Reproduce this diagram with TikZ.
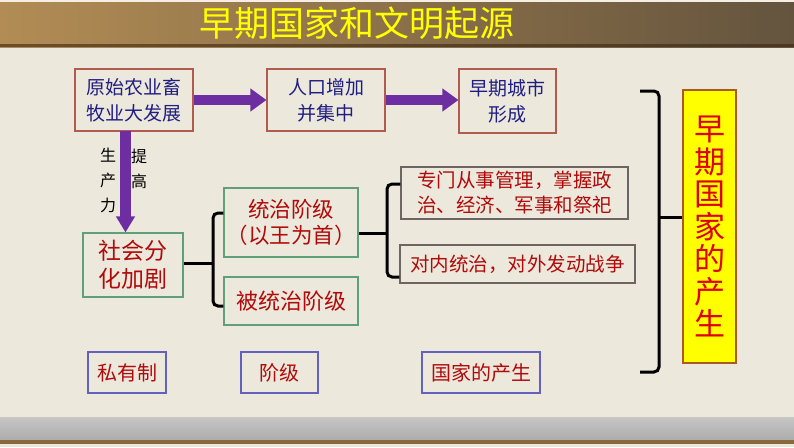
\documentclass[tikz,border=0pt]{standalone}
\usepackage{fontspec}
\newfontfamily\cjk{Noto Sans CJK SC}
\usetikzlibrary{arrows.meta,calc}
\definecolor{beige}{RGB}{236,232,220}
\definecolor{navy}{RGB}{32,30,130}
\definecolor{redtxt}{RGB}{176,10,10}
\definecolor{brownbd}{RGB}{176,90,80}
\definecolor{greenbd}{RGB}{96,160,120}
\definecolor{graybd}{RGB}{110,100,100}
\definecolor{purpbd}{RGB}{100,96,190}
\definecolor{purp}{RGB}{108,46,160}
\definecolor{ybox}{RGB}{255,255,0}
\definecolor{ybd}{RGB}{170,90,40}
\definecolor{wood1}{RGB}{178,140,84}
\definecolor{wood2}{RGB}{160,124,70}
\definecolor{wood3}{RGB}{100,84,62}
\tikzset{
  box/.style={draw, line width=1.1pt, align=center, inner sep=0pt, anchor=center},
  bluebox/.style={box, draw=brownbd, text=navy, font=\cjk\fontsize{19}{26}\selectfont},
  greenbox/.style={box, draw=greenbd, text=redtxt},
  graybox/.style={box, draw=graybd, text=redtxt, font=\cjk\fontsize{19.5}{25}\selectfont},
  purpbox/.style={box, draw=purpbd, text=redtxt, font=\cjk\fontsize{20}{24}\selectfont},
  blockarrow/.style={draw=purp, line width=10pt, -{Triangle[length=16pt,width=22pt]}},
  brk/.style={draw=black, line width=3pt, rounded corners=5pt},
  vlabel/.style={align=center, text=black, font=\cjk\fontsize{16}{25}\selectfont, inner sep=0pt}
}
\begin{document}
\begin{tikzpicture}[x=1pt,y=-1pt]
\useasboundingbox (0,0) rectangle (794,447);
% background
\fill[beige] (0,0) rectangle (794,447);
\shade[left color=wood1, middle color=wood2, right color=wood3] (0,0) rectangle (794,47);
\fill[black!70!brown, opacity=0.6] (0,44) rectangle (794,47);
\fill[white!85!wood1] (0,0) rectangle (794,2);
\shade[top color=gray!45, bottom color=gray!65] (0,417) rectangle (794,440);
\fill[wood2!85!black] (0,440) rectangle (794,444);
% title
\node[text=ybox, font=\cjk\fontsize{35}{38}\selectfont, inner sep=0pt] (title) at (357,23) {早期国家和文明起源};
% top row
\node[bluebox, minimum width=118pt, minimum height=62pt] (A) at (134,100) {原始农业畜\\牧业大发展};
\node[bluebox, minimum width=118pt, minimum height=62pt] (B) at (326,100) {人口增加\\并集中};
\node[bluebox, minimum width=97pt, minimum height=64pt] (C) at (507.5,101) {早期城市\\形成};
\draw[blockarrow] (A.east) -- (B.west);
\draw[blockarrow] (B.east) -- (C.west |- B.east);
% middle
\node[greenbox, font=\cjk\fontsize{23}{28}\selectfont, minimum width=100pt, minimum height=64pt] (D) at (133,265) {社会分\\化加剧};
\node[greenbox, font=\cjk\fontsize{21.5}{26}\selectfont, minimum width=134pt, minimum height=69pt] (E) at (291,222.5) {统治阶级\\（以王为首）};
\node[greenbox, font=\cjk\fontsize{22}{26}\selectfont, minimum width=134pt, minimum height=48pt] (F) at (291,301) {被统治阶级};
\node[graybox, minimum width=227pt, minimum height=52pt] (G) at (514.5,193) {专门从事管理，掌握政\\治、经济、军事和祭祀};
\node[graybox, minimum width=235pt, minimum height=38pt] (H) at (517.5,264) {对内统治，对外发动战争};
% vertical arrow
\coordinate (vs) at (125.5,131);
\draw[draw=purp, line width=11pt, -{Triangle[length=16pt,width=18pt]}] (vs) -- (vs |- D.north);
\node[vlabel] (L1) at (108,180) {生\\产\\力};
\node[vlabel] (L2) at (139,169) {提\\高};
% brackets
\coordinate (b1) at (213,263);
\coordinate (b1t) at (213,213);
\coordinate (b1b) at (213,306);
\draw[brk] (D.east |- b1) -- (b1);
\draw[brk] (E.west |- b1t) -- (b1t) -- (b1b) -- (F.west |- b1b);
\coordinate (b2) at (387,233);
\coordinate (b2t) at (387,184);
\coordinate (b2b) at (387,277);
\draw[brk] (E.east |- b2) -- (b2);
\draw[brk] (G.west |- b2t) -- (b2t) -- (b2b) -- (H.west |- b2b);
% yellow box
\node[box, draw=ybd, fill=ybox, text={rgb,255:red,224;green,0;blue,0}, font=\cjk\fontsize{31}{32.5}\selectfont, minimum width=53pt, minimum height=273pt] (I) at (709.5,226.5) {早\\期\\国\\家\\的\\产\\生};
\coordinate (bt0) at (640,91);
\coordinate (bt) at (659,91);
\coordinate (bb) at (659,372);
\coordinate (bb0) at (640,372);
\coordinate (bm) at (659,217);
\draw[brk] (bt0) -- (bt) -- (bb) -- (bb0);
\draw[brk] (bm) -- (bm -| I.west);
% bottom boxes
\node[purpbox, minimum width=78pt, minimum height=41pt] (P1) at (127,372.5) {私有制};
\node[purpbox, minimum width=77pt, minimum height=41pt] (P2) at (279.5,372.5) {阶级};
\node[purpbox, minimum width=118pt, minimum height=41pt] (P3) at (481,372.5) {国家的产生};
\end{tikzpicture}
\end{document}
